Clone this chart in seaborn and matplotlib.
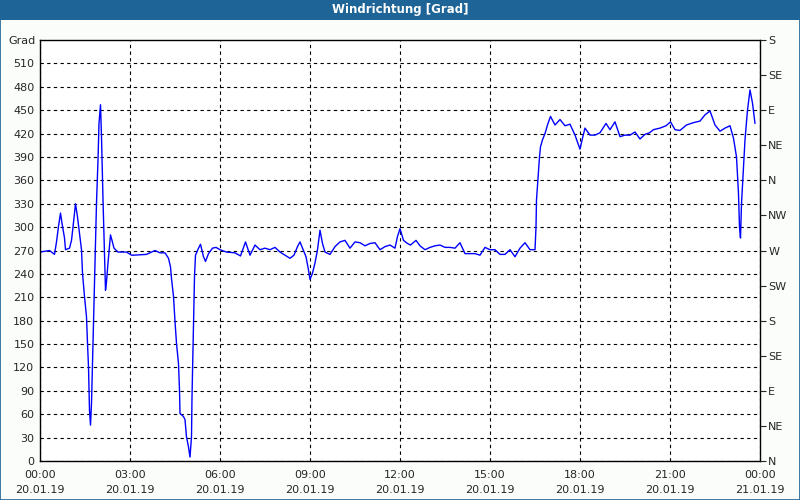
import matplotlib
matplotlib.use("Agg")
import matplotlib.pyplot as plt
import matplotlib.dates as mdates
import numpy as np
import pandas as pd
import seaborn as sea
from matplotlib.patches import Rectangle

# minutes after 20.01.19 00:00 and wind direction in degrees
MINUTES = [
    0, 19, 29, 33, 37, 41, 44, 49, 51, 59, 63, 66, 71, 75, 79, 83, 85, 89, 93, 95,
    97, 99, 101, 103, 105, 107, 109, 113, 116, 118, 121, 123, 126, 128, 131, 133,
    136, 141, 144, 148, 156, 173, 183, 187, 213, 230, 240, 250, 257, 261, 263, 267,
    270, 273, 277, 279, 280, 287, 290, 293, 297, 300, 303, 304, 307, 309, 311, 317,
    321, 327, 331, 337, 345, 352, 360, 373, 390, 401, 411, 420, 430, 440, 450, 460,
    470, 480, 490, 500, 508, 515, 520, 525, 532, 537, 540, 545, 550, 555, 560, 565,
    570, 580, 590, 600, 610, 620, 630, 640, 650, 660, 670, 680, 690, 700, 710, 715,
    720, 727, 735, 741, 752, 760, 770, 780, 790, 800, 810, 820, 830, 840, 850, 860,
    870, 880, 890, 900, 910, 920, 930, 940, 950, 960, 970, 980, 990, 992, 993, 996,
    999, 1001, 1005, 1010, 1015, 1021, 1030, 1040, 1050, 1060, 1070, 1080, 1085,
    1090, 1100, 1110, 1120, 1132, 1140, 1150, 1160, 1170, 1180, 1190, 1200, 1210,
    1219, 1227, 1240, 1252, 1261, 1270, 1280, 1293, 1307, 1320, 1330, 1340, 1350,
    1360, 1370, 1380, 1387, 1393, 1397, 1399, 1401, 1403, 1407, 1410, 1415, 1420,
    1425, 1430,
]
GRAD = [
    268, 270, 265, 281, 301, 318, 305, 286, 271, 273, 283, 300, 330, 313, 292, 271,
    241, 211, 185, 151, 121, 65, 46, 74, 126, 181, 232, 331, 386, 433, 457, 416,
    335, 288, 219, 230, 254, 290, 283, 273, 268, 268, 264, 264, 265, 270, 267, 267,
    260, 249, 234, 211, 179, 151, 125, 91, 61, 57, 53, 31, 18, 5, 31, 82, 177, 236,
    264, 273, 278, 262, 256, 266, 273, 274, 271, 268, 267, 263, 281, 264, 277, 271,
    273, 271, 274, 268, 264, 260, 264, 275, 281, 273, 262, 245, 233, 241, 254, 271,
    296, 279, 268, 265, 275, 281, 283, 273, 281, 280, 276, 279, 280, 271, 275, 277,
    273, 288, 298, 283, 279, 277, 283, 276, 271, 274, 276, 277, 274, 274, 273, 280,
    266, 266, 266, 264, 274, 271, 271, 265, 265, 271, 262, 273, 280, 271, 271, 300,
    335, 363, 390, 403, 412, 420, 431, 442, 431, 438, 430, 432, 418, 400, 414, 427,
    418, 418, 421, 433, 425, 435, 416, 418, 418, 422, 413, 419, 421, 425, 427, 430,
    435, 425, 424, 431, 434, 436, 444, 449, 431, 423, 427, 430, 414, 390, 343, 300,
    286, 330, 377, 412, 450, 476, 459, 433,
]

Y_TICKS = list(range(0, 540, 30))
COMPASS_POS = list(range(0, 541, 45))
COMPASS = ["N", "NE", "E", "SE", "S", "SW", "W", "NW", "N", "NE", "E", "SE", "S"]

START = pd.Timestamp("2019-01-20 00:00")
END = pd.Timestamp("2019-01-21 00:00")

BG = "#fbfdfb"
BAR = "#1e6496"

df = pd.DataFrame({
    "time": START + pd.to_timedelta(MINUTES, unit="min"),
    "grad": GRAD,
})

sea.set_style("white")
plt.rcParams["font.family"] = ["DejaVu Sans"]
plt.rcParams["font.size"] = 8

fig = plt.figure(figsize=(8, 5), dpi=100, facecolor=BG)
ax = fig.add_axes([0.05, 0.078, 0.90, 0.842])
ax.set_facecolor("white")

sea.lineplot(data=df, x="time", y="grad", color="#0000ff", linewidth=1, ax=ax)

ax.set_xlim(START, END)
ax.set_ylim(0, 540)
ax.set_xlabel("")
ax.set_ylabel("")

ax.xaxis.set_major_locator(mdates.HourLocator(byhour=range(0, 24, 3)))
ax.xaxis.set_minor_locator(mdates.HourLocator())
ax.xaxis.set_major_formatter(mdates.DateFormatter("%H:%M\n%d.%m.%y"))
ax.set_yticks(Y_TICKS)
ax.tick_params(axis="x", which="major", length=3, width=0.8, color="black", pad=3.5)
ax.tick_params(axis="x", which="minor", length=3, width=0.8, color="black")
ax.tick_params(axis="y", length=0, pad=4)
for lab in ax.get_xticklabels():
    lab.set_linespacing(1.6)

ax.grid(True, which="major", color="black", linestyle=(0, (3, 3)), linewidth=0.8)
for s in ax.spines.values():
    s.set_color("black")
    s.set_linewidth(1)

# compass labels on the right
ax2 = ax.twinx()
ax2.set_ylim(0, 540)
ax2.set_yticks(COMPASS_POS)
ax2.set_yticklabels(COMPASS)
ax2.tick_params(axis="y", length=4, width=0.8, pad=2)
for s in ax2.spines.values():
    s.set_visible(False)

fig.text(0.045, 0.908, "Grad", ha="right", va="bottom", fontsize=8)

# title bar and frame
fig.patches.append(Rectangle((0, 0.96), 1, 0.04, transform=fig.transFigure,
                             facecolor=BAR, edgecolor="none", zorder=0))
fig.patches.append(Rectangle((0.0006, 0.001), 0.9988, 0.998, transform=fig.transFigure,
                             facecolor="none", edgecolor=BAR, linewidth=1.2))
fig.text(0.5, 0.98, "Windrichtung [Grad]", ha="center", va="center",
         color="white", fontsize=8.5, fontweight="bold")

fig.savefig("out.png", dpi=100, facecolor=BG)
